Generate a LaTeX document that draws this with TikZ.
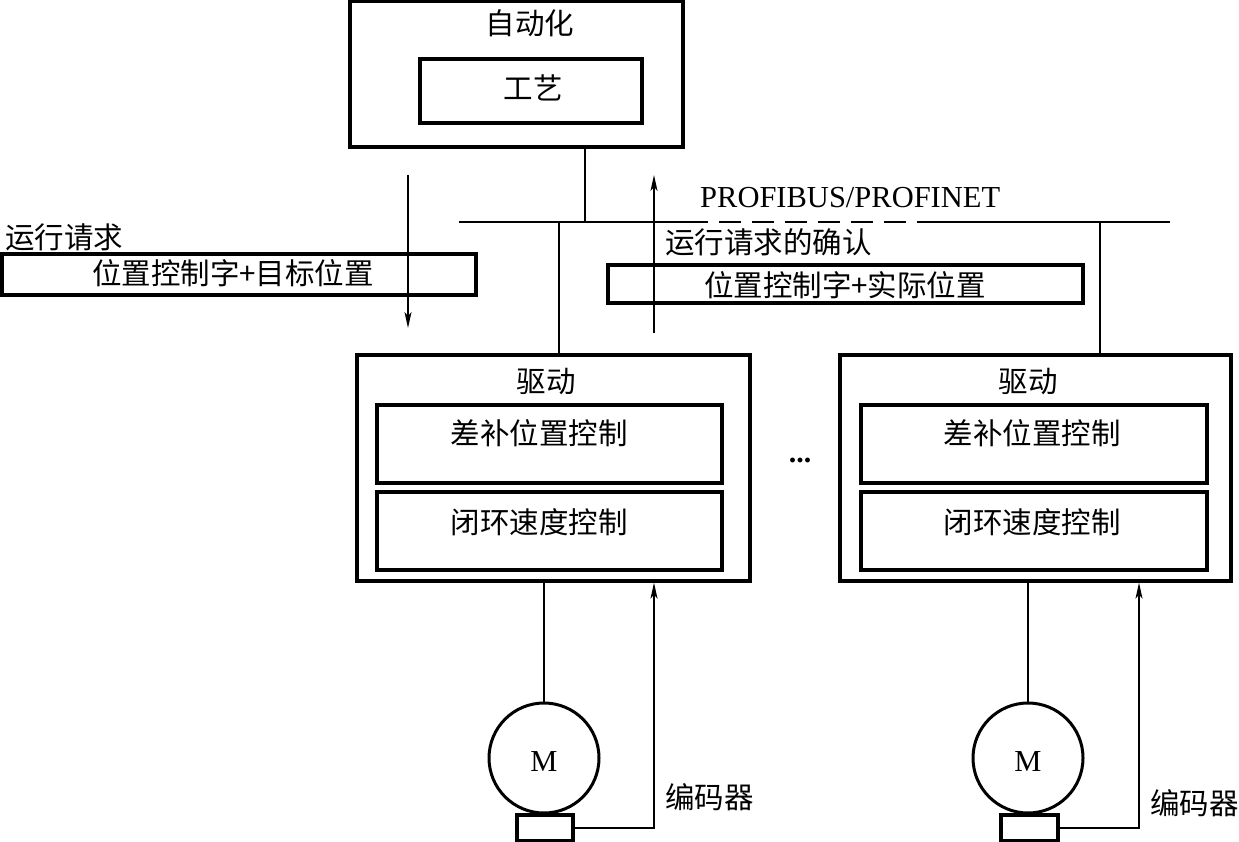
\documentclass[tikz,border=0pt]{standalone}
\usepackage{fontspec}
\setmainfont{Liberation Serif}
\newfontfamily\cjk{Noto Sans CJK SC}
\usetikzlibrary{arrows.meta}
\begin{document}
\begin{tikzpicture}[x=1pt,y=-1pt,
  box/.style={draw,line width=3.3pt,inner sep=0pt},
  conn/.style={line width=1.4pt},
  arr/.style={line width=1.4pt,-{Stealth[length=16pt,width=7pt,inset=4pt]}},
  lbl/.style={inner sep=0pt,font=\cjk\fontsize{29.5}{32}\selectfont},
  lbll/.style={lbl,anchor=west},
  latin/.style={inner sep=0pt,font=\fontsize{30.5}{34}\selectfont}]
\useasboundingbox (0,0) rectangle (1239,842);
% automation
\node[box,minimum width=333pt,minimum height=146pt] (auto) at (516.5,74) {};
\node[lbl] (autot) at (530,23) {自动化};
\node[box,minimum width=222pt,minimum height=64pt] (tech) at (531,91) {};
\node[lbl] (techt) at (533,88) {工艺};
% messages
\node[box,minimum width=474pt,minimum height=41pt] (req) at (239,274.5) {};
\node[lbl] (reqt) at (233,273) {位置控制字+目标位置};
\node[lbll] (reql) at (5,237) {运行请求};
\node[box,minimum width=475pt,minimum height=38pt] (ack) at (845.5,284) {};
\node[lbl] (ackt) at (845,285) {位置控制字+实际位置};
\node[lbll] (ackl) at (665,242) {运行请求的确认};
\node[latin,anchor=west] (bus) at (700,198) {PROFIBUS/PROFINET};
% drives
\node[box,minimum width=393pt,minimum height=226pt] (d1) at (553.5,468) {};
\node[lbl] (d1t) at (546,382) {驱动};
\node[box,minimum width=345pt,minimum height=78pt] (d1a) at (549.5,444) {};
\node[lbl] (d1at) at (539,433) {差补位置控制};
\node[box,minimum width=345pt,minimum height=78pt] (d1b) at (549.5,531) {};
\node[lbl] (d1bt) at (539,522) {闭环速度控制};
\node[box,minimum width=391pt,minimum height=226pt] (d2) at (1035.5,468) {};
\node[lbl] (d2t) at (1028,382) {驱动};
\node[box,minimum width=346pt,minimum height=78pt] (d2a) at (1034,444) {};
\node[lbl] (d2at) at (1032,433) {差补位置控制};
\node[box,minimum width=346pt,minimum height=78pt] (d2b) at (1034,531) {};
\node[lbl] (d2bt) at (1032,522) {闭环速度控制};
\node[latin,font=\bfseries\fontsize{30}{34}\selectfont] (dots) at (800,460) {...};
% motors
\node[draw,circle,line width=3pt,minimum size=110pt,inner sep=0pt] (m1) at (544,758) {};
\node[latin] (m1t) at (544,762) {M};
\node[box,minimum width=56pt,minimum height=26pt] (e1) at (545,828) {};
\node[draw,circle,line width=3pt,minimum size=110pt,inner sep=0pt] (m2) at (1028,758) {};
\node[latin] (m2t) at (1028,762) {M};
\node[box,minimum width=57pt,minimum height=26pt] (e2) at (1029.5,828) {};
\node[lbll] (e1l) at (665,797) {编码器};
\node[lbll] (e2l) at (1150,803) {编码器};
% bus
\coordinate (b1) at (459,222);
\coordinate (b2) at (686,222);
\coordinate (b3) at (918,222);
\coordinate (b4) at (1170,222);
\draw[conn] (b1) -- (b2);
\draw[conn,dash pattern=on 22pt off 11pt] (b2) -- (b3);
\draw[conn] (b3) -- (b4);
\draw[conn] (auto.south -| 585,0) -- (585,222);
\draw[conn] (d1.north -| 559,0) -- (559,222);
\draw[conn] (d2.north -| 1100,0) -- (1100,222);
% request arrows
\coordinate (ra) at (408,175);
\coordinate (rb) at (408,328);
\draw[arr] (ra) -- (rb);
\coordinate (aa) at (654,333);
\coordinate (ab) at (654,175);
\draw[arr] (aa) -- (ab);
% motor connections
\draw[conn] (d1.south -| m1) -- (m1.north);
\draw[conn] (d2.south -| m2) -- (m2.north);
\draw[arr] (e1.east) -- (e1.east -| 654,0) -- (d1.south -| 654,0);
\draw[arr] (e2.east) -- (e2.east -| 1139,0) -- (d2.south -| 1139,0);
\end{tikzpicture}
\end{document}
